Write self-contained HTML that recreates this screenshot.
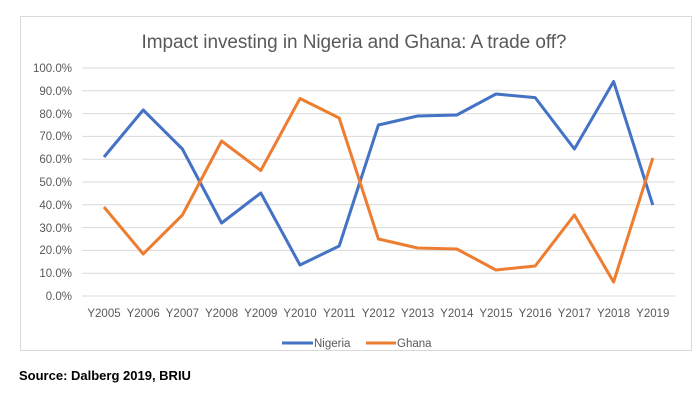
<!DOCTYPE html>
<html><head><meta charset="utf-8"><style>
body{margin:0;background:#fff;width:700px;height:400px;overflow:hidden;font-family:"Liberation Sans",sans-serif}
</style></head><body>
<svg width="700" height="400" xmlns="http://www.w3.org/2000/svg" font-family="Liberation Sans, sans-serif">
<rect x="20.5" y="16.5" width="671" height="334" fill="#fff" stroke="#d9d9d9"/>
<text x="354" y="48" text-anchor="middle" font-size="19" fill="#595959" textLength="425">Impact investing in Nigeria and Ghana: A trade off?</text>
<g stroke="#d9d9d9" stroke-width="1">
<line x1="82" x2="675" y1="68" y2="68"/><line x1="82" x2="675" y1="90.8" y2="90.8"/><line x1="82" x2="675" y1="113.6" y2="113.6"/><line x1="82" x2="675" y1="136.4" y2="136.4"/><line x1="82" x2="675" y1="159.2" y2="159.2"/><line x1="82" x2="675" y1="182" y2="182"/><line x1="82" x2="675" y1="204.8" y2="204.8"/><line x1="82" x2="675" y1="227.6" y2="227.6"/><line x1="82" x2="675" y1="250.4" y2="250.4"/><line x1="82" x2="675" y1="273.2" y2="273.2"/><line x1="82" x2="675" y1="296" y2="296"/>
</g>
<g font-size="11.5" fill="#595959" text-anchor="end">
<text x="72" y="72">100.0%</text><text x="72" y="95">90.0%</text><text x="72" y="118">80.0%</text><text x="72" y="140">70.0%</text><text x="72" y="163">60.0%</text><text x="72" y="186">50.0%</text><text x="72" y="209">40.0%</text><text x="72" y="232">30.0%</text><text x="72" y="254">20.0%</text><text x="72" y="277">10.0%</text><text x="72" y="300">0.0%</text>
</g>
<g font-size="11.5" fill="#595959" text-anchor="middle">
<text x="104" y="317">Y2005</text><text x="143.2" y="317">Y2006</text><text x="182.4" y="317">Y2007</text><text x="221.6" y="317">Y2008</text><text x="260.8" y="317">Y2009</text><text x="300" y="317">Y2010</text><text x="339.2" y="317">Y2011</text><text x="378.4" y="317">Y2012</text><text x="417.6" y="317">Y2013</text><text x="456.8" y="317">Y2014</text><text x="496" y="317">Y2015</text><text x="535.2" y="317">Y2016</text><text x="574.4" y="317">Y2017</text><text x="613.6" y="317">Y2018</text><text x="652.8" y="317">Y2019</text>
</g>
<polyline fill="none" stroke="#4472c4" stroke-width="3" stroke-linejoin="round" points="104,157 143.2,110 182.4,149 221.6,223 260.8,193 300,265 339.2,246 378.4,125 417.6,116 456.8,115 496,94 535.2,97.6 574.4,149 613.6,81.5 652.8,205"/>
<polyline fill="none" stroke="#ed7d31" stroke-width="3" stroke-linejoin="round" points="104,207 143.2,254 182.4,215 221.6,141 260.8,170.5 300,98.5 339.2,118 378.4,239 417.6,248 456.8,249 496,270 535.2,266 574.4,215 613.6,282 652.8,158"/>
<line x1="282" x2="313" y1="343" y2="343" stroke="#4472c4" stroke-width="3"/>
<text x="314" y="347" font-size="11.5" fill="#595959">Nigeria</text>
<line x1="366" x2="396" y1="343" y2="343" stroke="#ed7d31" stroke-width="3"/>
<text x="397" y="347" font-size="11.5" fill="#595959">Ghana</text>
<text x="19" y="380" font-size="13" font-weight="bold" fill="#000">Source: Dalberg 2019, BRIU</text>
</svg>
</body></html>
